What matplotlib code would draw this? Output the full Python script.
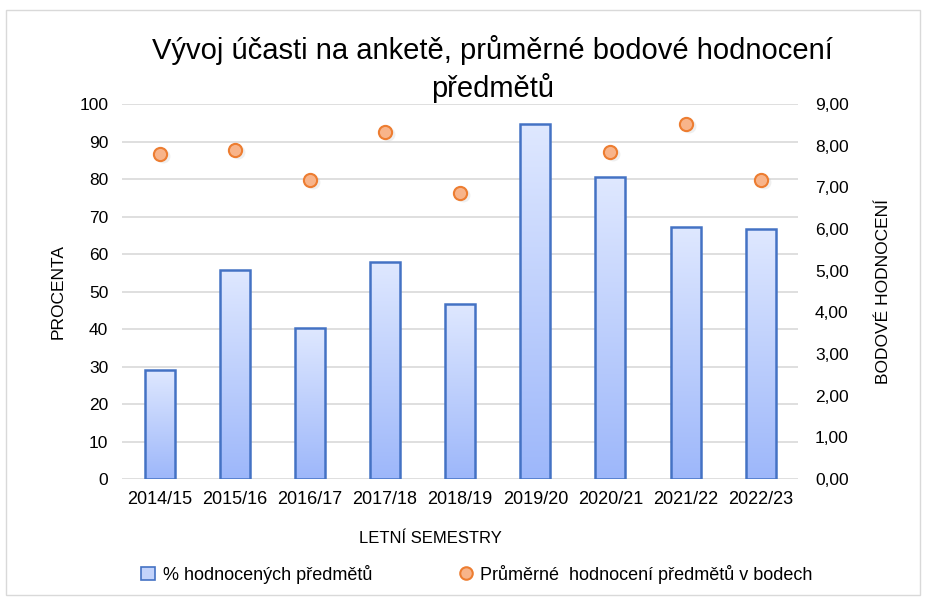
import numpy as np
import matplotlib.pyplot as plt
from matplotlib.lines import Line2D
from matplotlib.patches import Patch, Rectangle
from matplotlib.ticker import FuncFormatter
from matplotlib.colors import LinearSegmentedColormap

plt.rcParams['font.family'] = ['Liberation Sans', 'DejaVu Sans']

# data
semestry = ['2014/15', '2015/16', '2016/17', '2017/18', '2018/19',
            '2019/20', '2020/21', '2021/22', '2022/23']
procenta = [29.1, 55.8, 40.4, 57.9, 46.7, 94.7, 80.5, 67.3, 66.7]
body = [7.80, 7.90, 7.18, 8.33, 6.87, np.nan, 7.85, 8.52, 7.18]

fig = plt.figure(figsize=(9.26, 5.98), dpi=100)
ax = fig.add_axes([0.132, 0.199, 0.730, 0.627])
ax2 = ax.twinx()

# outer chart border
fig.patches.append(Rectangle((0.006, 0.005), 0.988, 0.978, transform=fig.transFigure,
                             fill=False, edgecolor='#d9d9d9', lw=1))

x = np.arange(len(semestry))
bars = ax.bar(x, procenta, width=0.4, color='none', edgecolor='#4472c4', lw=1.8, zorder=3)

# gradient fill for the bars
grad = np.linspace(0, 1, 256).reshape(-1, 1)
cmap = LinearSegmentedColormap.from_list('g', ['#9db7fa', '#dfe8ff'])
for b in bars:
    bx, by = b.get_x(), b.get_y()
    w, h = b.get_width(), b.get_height()
    im = ax.imshow(grad, extent=[bx, bx + w, by, by + h], origin='lower',
                   cmap=cmap, aspect='auto', zorder=2)
    im.set_clip_path(b)

ax.set_xlim(-0.5, len(semestry) - 0.5)
ax.set_ylim(0, 100)
ax.set_yticks(range(0, 101, 10))
ax.set_xticks(x)
ax.set_xticklabels(semestry)
ax.grid(axis='y', color='#d9d9d9', lw=1.2, zorder=0)
ax.set_axisbelow(True)

# soft shadow under the markers
ax2.plot(x + 0.04, np.array(body) - 0.05, 'o', ms=10, color='#b0b0b0', alpha=0.2,
         mec='none', zorder=4)
ax2.plot(x, body, 'o', ms=9.5, mfc='#f8b48a', mec='#ed7d31', mew=1.5, ls='none', zorder=5)
ax2.set_ylim(0, 9)
ax2.set_yticks(np.arange(0, 9.01, 1))
ax2.yaxis.set_major_formatter(FuncFormatter(lambda v, p: f'{v:.2f}'.replace('.', ',')))

for a in (ax, ax2):
    for s in a.spines.values():
        s.set_visible(False)
    a.tick_params(length=0, labelsize=12.5, colors='#000000')
ax.tick_params(axis='y', pad=10)
ax2.tick_params(axis='y', pad=12)
ax.tick_params(axis='x', pad=9, labelsize=13)

ax.set_ylabel('PROCENTA', fontsize=12.5, labelpad=10)
ax2.set_ylabel('BODOVÉ HODNOCENÍ', fontsize=12.5, labelpad=20)
fig.text(0.465, 0.100, 'LETNÍ SEMESTRY', ha='center', va='center', fontsize=12)

fig.text(0.532, 0.917, 'Vývoj účasti na anketě, průměrné bodové hodnocení',
         ha='center', va='center', fontsize=21)
fig.text(0.532, 0.853, 'předmětů', ha='center', va='center', fontsize=21)

handles = [Patch(facecolor='#c3d3fb', edgecolor='#4472c4', lw=1.2),
           Line2D([], [], marker='o', ls='none', ms=9, mfc='#f8b48a', mec='#ed7d31', mew=1.5)]
fig.legend(handles, ['% hodnocených předmětů', 'Průměrné  hodnocení předmětů v bodech'],
           loc='center', bbox_to_anchor=(0.515, 0.04), ncol=2, frameon=False,
           fontsize=13, columnspacing=4.8, handlelength=0.8, handletextpad=0.4)

fig.savefig('out.png', dpi=100)
